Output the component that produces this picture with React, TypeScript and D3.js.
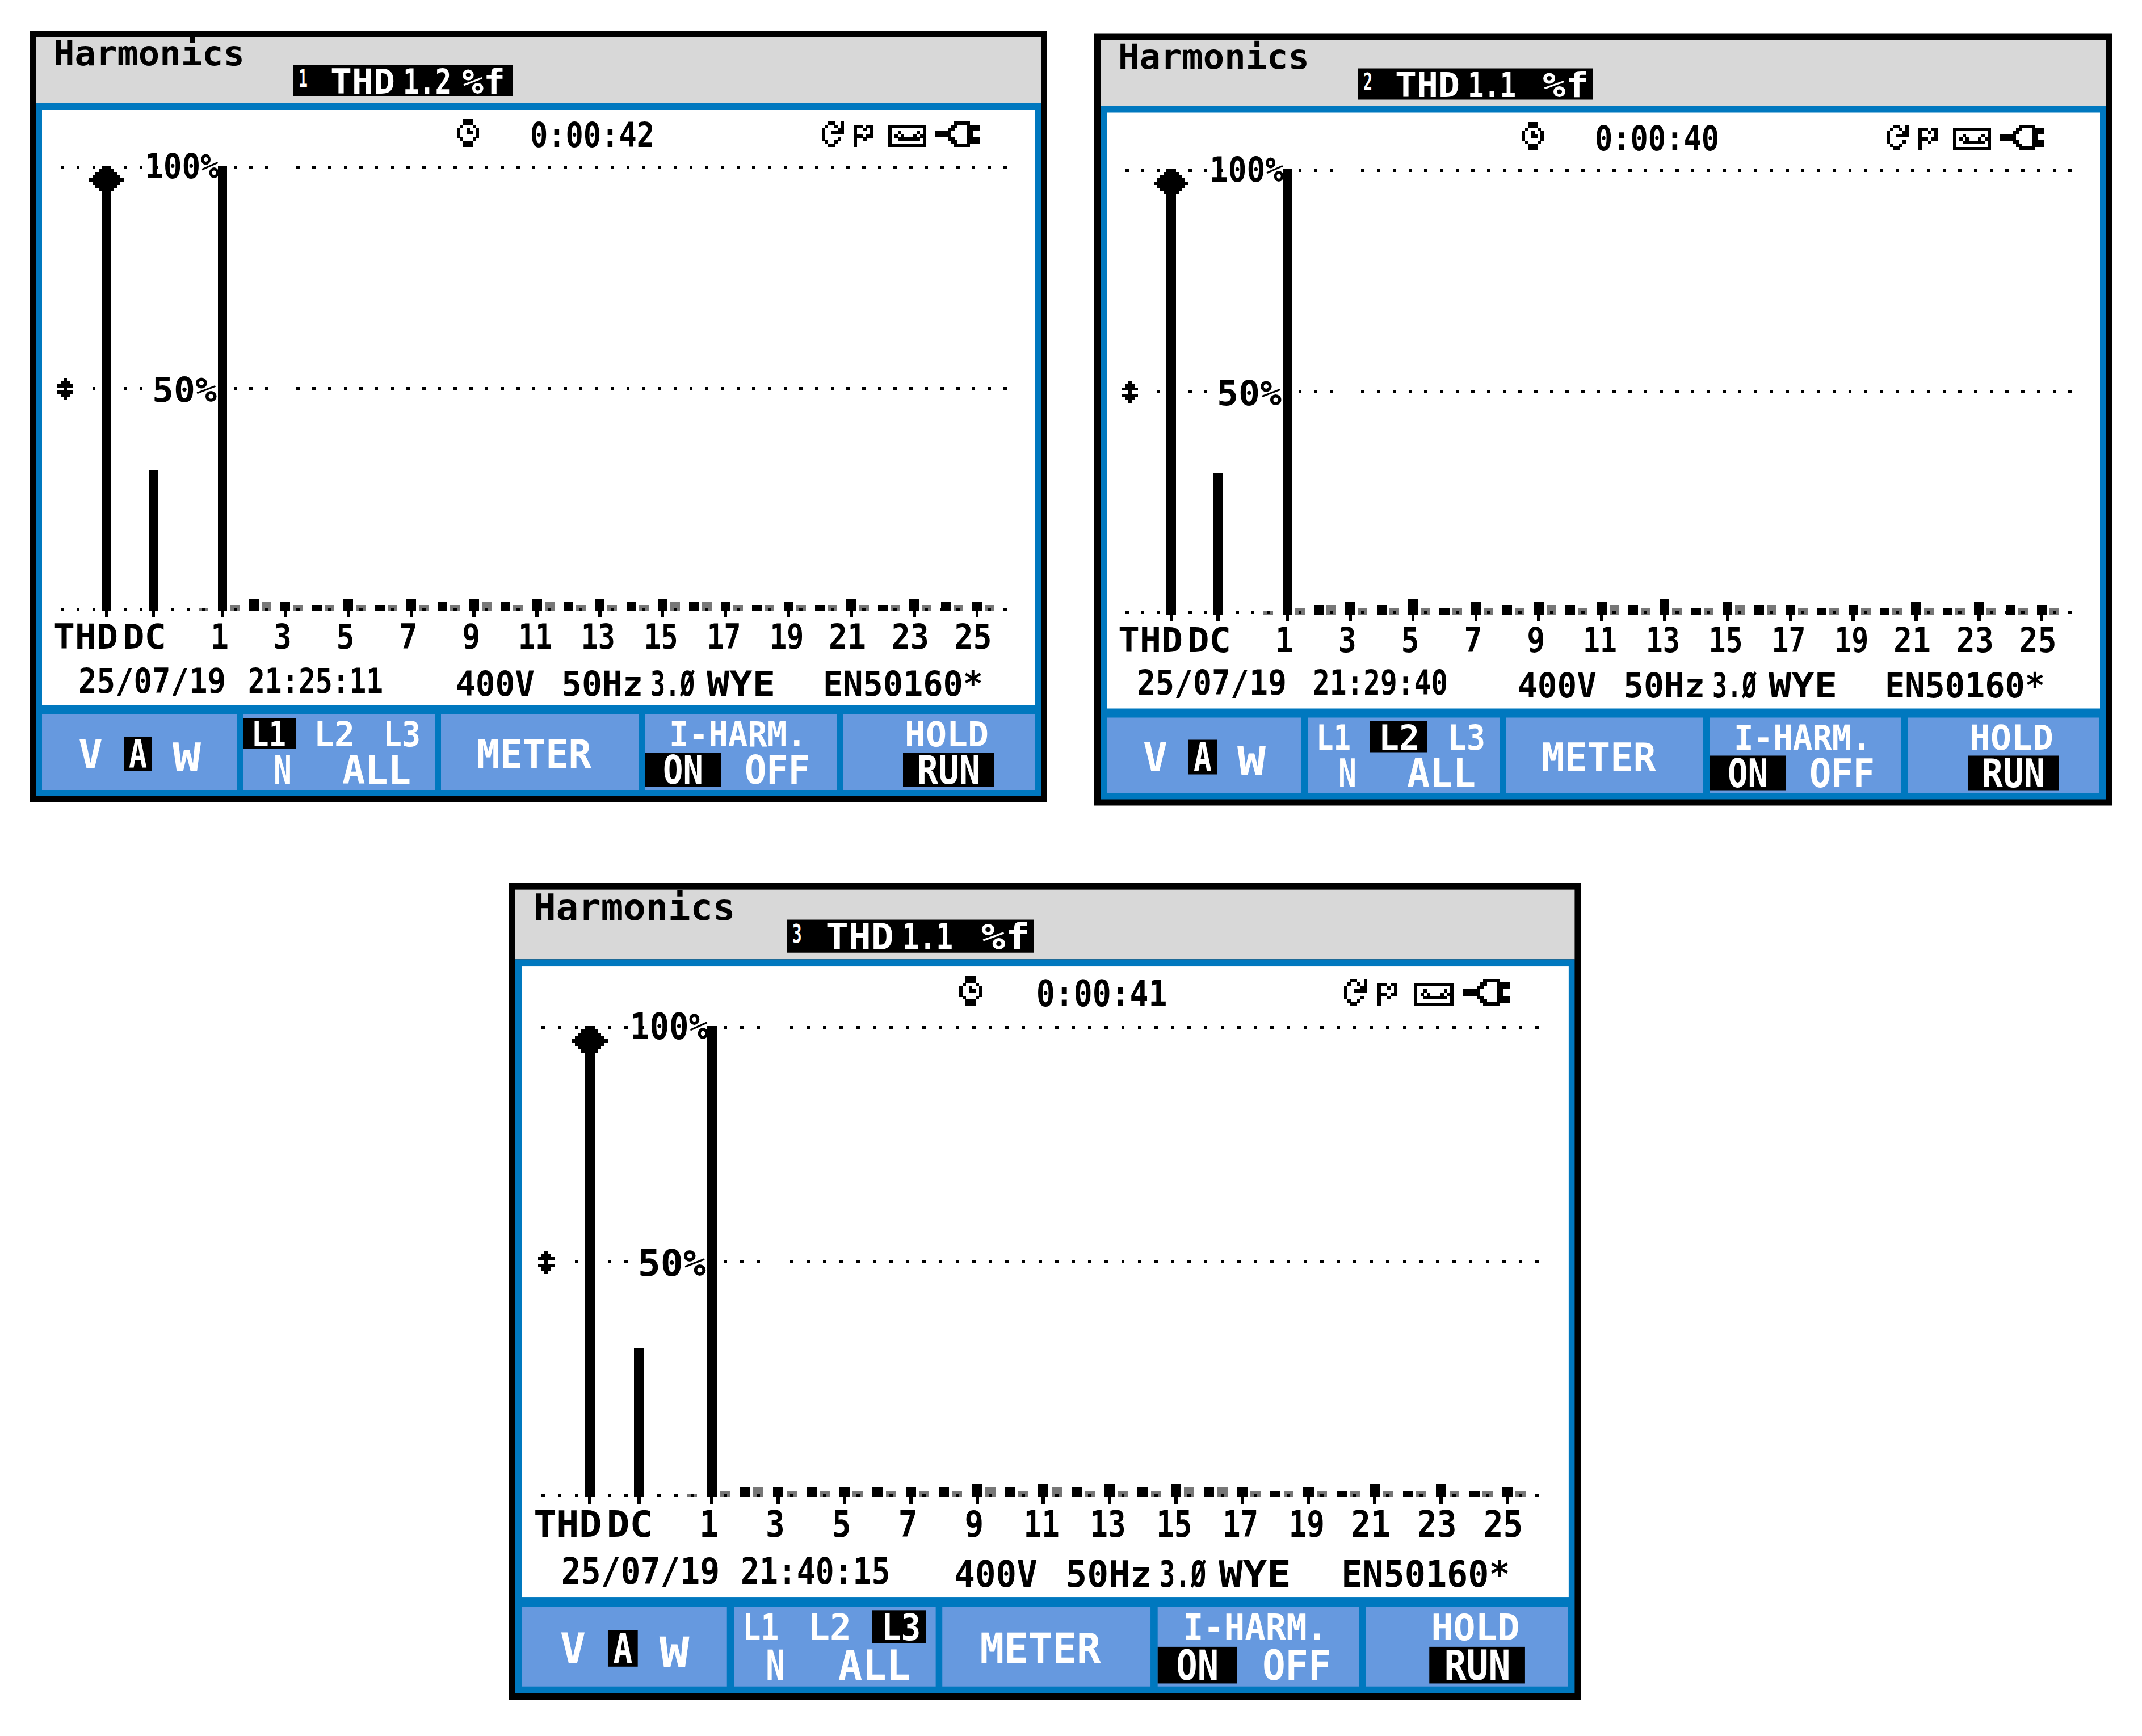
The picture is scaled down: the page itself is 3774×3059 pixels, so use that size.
import React from "react";
import * as d3 from "d3";

// ---- data ----
const harmonicOrders = d3.range(2, 26);
const panelIds = ["1", "2", "3"];
const thdText = ["1.2", "1.1", "1.1"];
const timers = ["0:00:42", "0:00:40", "0:00:41"];
const clockTimes = ["21:25:11", "21:29:40", "21:40:15"];
const dateText = "25/07/19";
const thdBar = [100, 100, 100];
const dcBar = [31.7, 31.7, 31.6];
const h1Bar = [100, 100, 100];
// black bars, orders 2..25 (%f)
const blackP1 = [2.8,2.1,1.4,2.8,1.4,2.8,2.1,2.8,2.1,2.8,2.1,2.8,2.1,2.8,2.1,2.1,1.4,2.1,1.4,2.8,1.4,2.8,2.1,2.1];
const blackP2 = [2.1,2.8,2.1,3.5,1.4,2.8,2.1,2.8,2.1,2.8,2.1,3.5,1.4,2.8,2.1,2.1,1.4,2.1,1.4,2.8,1.4,2.8,2.1,2.1];
const blackP3 = [2.1,2.1,2.1,2.1,2.1,2.1,2.1,2.8,2.1,2.8,2.1,2.8,2.1,2.8,2.1,2.1,1.4,2.1,1.4,2.8,1.4,2.8,1.4,2.1];
// grey interharmonic bars, groups 0..25 (%f)
const greyP1 = [0.7,1.4,2.1,1.4,1.4,1.4,1.4,1.4,1.4,2.1,1.4,2.1,1.4,1.4,1.4,2.1,2.1,1.4,1.4,1.4,1.4,1.4,1.4,1.4,1.4,1.4];
const greyP2 = [0.7,1.4,2.1,1.4,1.4,1.4,1.4,1.4,1.4,2.1,1.4,2.1,1.4,1.4,1.4,2.1,2.1,1.4,1.4,1.4,1.4,1.4,1.4,1.4,1.4,1.4];
const greyP3 = [0.7,1.4,2.1,1.4,1.4,1.4,1.4,1.4,1.4,2.1,1.4,2.1,1.4,1.4,1.4,2.1,2.1,1.4,1.4,1.4,1.4,1.4,1.4,1.4,1.4,1.4];
const blackSeries = [blackP1, blackP2, blackP3];
const greySeries = [greyP1, greyP2, greyP3];
const axisLabels = ["1","3","5","7","9","11","13","15","17","19","21","23","25"];
const oddOrders = d3.range(1, 26, 2);
const gridLevels = [100, 50, 0];
const phases = ["L1", "L2", "L3"];

const BLUE = "#0078BF", BTN = "#6699DF", HEAD = "#D8D8D8", GREY = "#777777";
const FONT = "'DejaVu Sans Mono', monospace";
const LCD = 5.55;

const x = d3.scaleLinear().domain([1, 25]).range([392, 1721.6]);
const xNamed = d3.scaleOrdinal<string, number>().domain(["THD", "DC"]).range([187.5, 270]);
const y = d3.scaleLinear().domain([0, 100]).range([1077, 292]);
const yGrid = d3.scaleLinear().domain([0, 100]).range([1074, 295]);
const dotX = d3.scaleLinear().domain([0, 60]).range([110, 1771]);

const T = ({ x0, x1, base, cap = 44, fill = "#000", children }: any) => (
  <text x={x0 - 2} y={base} fontFamily={FONT} fontWeight="bold" fontSize={cap / 0.729} fill={fill}
    textLength={x1 - x0 + 4} lengthAdjust="spacingAndGlyphs">{children}</text>
);

const Bitmap = ({ rows, x0, y0, w = LCD, h = LCD, fill = "#000" }: any) => (
  <g fill={fill} shapeRendering="crispEdges">
    {rows.flatMap((r: string, j: number) =>
      r.split("").map((c: string, i: number) =>
        c === "#" ? <rect key={i + "-" + j} x={x0 + i * w} y={y0 + j * h} width={w + 0.3} height={h + 0.3} /> : null))}
  </g>
);

const clockIcon = ["..###..","..###..",".#...#.","#..#..#","#..##.#","#.....#",".#...#.","..###..","..###.."];
const loopIcon = ["..##..#",".#..#.#","#....##","#..####","#......","#....#.",".#..#..","..##..."];
const flagIcon = ["###.##","#..#.#","#....#","###.##","#..#..","#.....","#....."];
const tapeIcon = ["############","#..........#","#..#.....#.#","#.#.#...#.##","#..#######.#","#..........#","############"];
const plugIcon = ["......#####...",".....##...####","....##....####","#####.....##..","#####.....##..","....##....####",".....##...####","......#####..."];
const cursorIcon = ["..#..",".###.","#####","..#..","#####",".###.","..#.."];

const Stack = ({ cx, top, widths }: any) => (
  <g shapeRendering="crispEdges">
    {widths.map((w: number, i: number) => (
      <rect key={i} x={cx - (w * LCD) / 2} y={top + i * LCD} width={w * LCD} height={LCD + 0.3} fill="#000" />
    ))}
  </g>
);

const diamondRows = [3, 5, 7, 9, 11, 9, 7, 5];
const dateSpan = [[140, 396], [129, 389], [142, 403]];
const clockSpan = [[439, 673], [439, 673], [442, 688]];
const statusDx = [0, -5, -6];
const statusDy = [0, -3, 0];

function Panel({ idx, transform }: any) {
  const black = blackSeries[idx];
  const grey = greySeries[idx];
  const wide = idx > 0;
  const selX = [[429, 522], [538, 639], [660, 750]][idx];
  const phaseX = [[445, 502], [555, 623], [677, 739]];
  const sdx = statusDx[idx];
  const sdy = statusDy[idx];
  const dotsFor = (lvl: number) =>
    d3.range(0, 61).filter((k) => {
      if (lvl === 100) return k !== 14 && !(k >= 7 && k <= 9);
      if (lvl === 50) return k !== 14 && !(k >= 6 && k <= 9) && k > 1;
      return true;
    });
  return (
    <g transform={transform}>
      <rect x={52} y={54} width={1793} height={1360} fill="#000" />
      <rect x={63} y={65} width={1771} height={116} fill={HEAD} />
      <rect x={63} y={181} width={1771} height={1222} fill={BLUE} />
      <rect x={74} y={193} width={1750} height={1050} fill="#fff" />
      {[[74, 417], [429, 766], [777, 1125], [1137, 1474], [1485, 1823]].map(([a, b]) => (
        <rect key={a} x={a} y={1259} width={b - a} height={133} fill={BTN} />
      ))}

      <T x0={96} x1={429} base={115}>Harmonics</T>
      <rect x={517} y={115} width={wide ? 413 : 387} height={55} fill="#000" />
      <T x0={528} x1={540} base={153} cap={31} fill="#fff">{panelIds[idx]}</T>
      <T x0={584} x1={694} base={165} fill="#fff">THD</T>
      <T x0={712} x1={793} base={165} fill="#fff">{thdText[idx]}</T>
      <T x0={wide ? 844 : 816} x1={wide ? 921 : 888} base={165} fill="#fff">%f</T>

      <Bitmap rows={clockIcon} x0={805} y0={209} />
      <T x0={936} x1={1151} base={259}>{timers[idx]}</T>
      <Bitmap rows={loopIcon} x0={1448} y0={214} />
      <Bitmap rows={flagIcon} x0={1504} y0={220} />
      <Bitmap rows={tapeIcon} x0={1565} y0={220} />
      <Bitmap rows={plugIcon} x0={1648} y0={214} />

      {/* grey interharmonic bars */}
      <g shapeRendering="crispEdges">
        {grey.map((v, i) => (
          <rect key={i} x={x(i + 0.4) - 8.5} y={y(v)} width={17} height={y(0) - y(v)} fill={GREY} />
        ))}
      </g>
      {/* dotted gridlines */}
      <g shapeRendering="crispEdges">
        {gridLevels.map((lvl) =>
          dotsFor(lvl).map((k) => (
            <rect key={lvl + "-" + k} x={dotX(k) - 2.8} y={yGrid(lvl) - 2.8} width={5.6} height={5.6} fill="#000" />
          )))}
      </g>
      {/* black bars */}
      <g shapeRendering="crispEdges" fill="#000">
        <rect x={xNamed("THD") - 8.3} y={y(thdBar[idx])} width={16.6} height={y(0) - y(thdBar[idx])} />
        <rect x={xNamed("DC") - 8.3} y={y(dcBar[idx])} width={16.6} height={y(0) - y(dcBar[idx])} />
        <rect x={x(1) - 8.3} y={y(h1Bar[idx])} width={16.6} height={y(0) - y(h1Bar[idx])} />
        {black.map((v, i) => (
          <rect key={i} x={x(harmonicOrders[i]) - 8.6} y={y(v)} width={17.2} height={y(0) - y(v)} />
        ))}
        {[xNamed("THD"), xNamed("DC"), ...oddOrders.map((o) => x(o))].map((px, i) => (
          <rect key={i} x={px - 2.8} y={y(0)} width={5.6} height={11} />
        ))}
      </g>
      <Stack cx={xNamed("THD")} top={y(100)} widths={diamondRows} />
      <Bitmap rows={cursorIcon} x0={101} y0={666} />
      <T x0={257} x1={384} base={314}>100%</T>
      <T x0={270} x1={380} base={708}>50%</T>

      {/* axis labels */}
      <T x0={96} x1={206} base={1143}>THD</T>
      <T x0={218} x1={291} base={1143}>DC</T>
      {axisLabels.map((l, i) => {
        const twenty = l.startsWith("2");
        const half = l.length === 1 ? 14 : twenty ? 31 : 28;
        const c = x(oddOrders[i]) - (l.length === 1 ? 5 : twenty ? 7 : 3);
        return <T key={l} x0={c - half} x1={c + half} base={1143}>{l}</T>;
      })}

      <T x0={dateSpan[idx][0]} x1={dateSpan[idx][1]} base={1221 + sdy}>{dateText}</T>
      <T x0={clockSpan[idx][0]} x1={clockSpan[idx][1]} base={1221 + sdy}>{clockTimes[idx]}</T>
      <T x0={805 + sdx} x1={940 + sdx} base={1226 + sdy}>400V</T>
      <T x0={991 + sdx} x1={1131 + sdx} base={1226 + sdy}>50Hz</T>
      <T x0={1148 + sdx} x1={1222 + sdx} base={1226 + sdy}>3.Ø</T>
      <T x0={1247 + sdx} x1={1364 + sdx} base={1226 + sdy}>WYE</T>
      <T x0={1452 + sdx} x1={1730 + sdx} base={1226 + sdy}>EN50160*</T>

      {/* softkeys */}
      <T x0={140} x1={179} base={1353} cap={50} fill="#fff">V</T>
      <rect x={218} y={1298} width={50} height={61} fill="#000" />
      <T x0={229} x1={257} base={1353} cap={50} fill="#fff">A</T>
      <T x0={306} x1={352} base={1359} cap={50} fill="#fff">W</T>

      <rect x={selX[0]} y={1265} width={selX[1] - selX[0]} height={55} fill="#000" />
      {phases.map((p, i) => (
        <T key={p} x0={phaseX[i][0]} x1={phaseX[i][1]} base={1315} fill="#fff">{p}</T>
      ))}
      <T x0={484} x1={512} base={1381} cap={50} fill="#fff">N</T>
      <T x0={605} x1={722} base={1381} cap={50} fill="#fff">ALL</T>

      <T x0={842} x1={1040} base={1353} cap={50} fill="#fff">METER</T>
      <T x0={1181} x1={1419} base={1315} fill="#fff">I-HARM.</T>
      <rect x={1137} y={1326} width={133} height={61} fill="#000" />
      <T x0={1170} x1={1237} base={1381} cap={50} fill="#fff">ON</T>
      <T x0={1314} x1={1425} base={1381} cap={50} fill="#fff">OFF</T>
      <T x0={1596} x1={1740} base={1315} fill="#fff">HOLD</T>
      <rect x={1591} y={1326} width={160} height={61} fill="#000" />
      <T x0={1618} x1={1725} base={1381} cap={50} fill="#fff">RUN</T>
    </g>
  );
}

const sx3 = 1890 / 1793;
const sy3 = 1439 / 1360;

export default function App() {
  return (
    <svg width={3774} height={3059} viewBox="0 0 3774 3059"
      style={{ position: "absolute", left: 0, top: 0, display: "block", background: "#fff" }}>
      <Panel idx={0} transform="translate(0,0)" />
      <Panel idx={1} transform="translate(1876,5.5)" />
      <Panel idx={2} transform={`translate(${896 - 52 * sx3},${1556 - 54 * sy3}) scale(${sx3},${sy3})`} />
    </svg>
  );
}
